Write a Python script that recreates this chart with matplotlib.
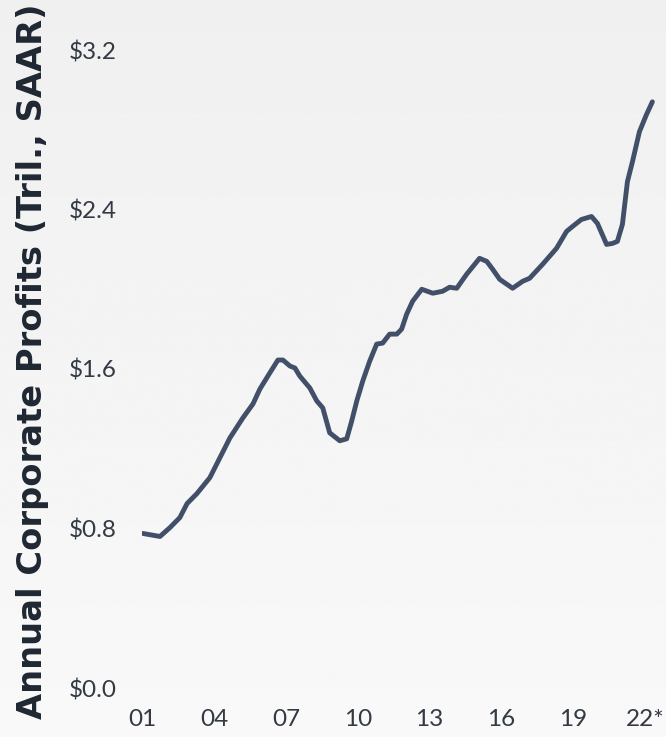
"""
Annual corporate profits (Tril., SAAR), 2001 - 2022
"""

import numpy as np
import matplotlib.pyplot as plt


# values (decimal year, $ trillions)
years = [2001.04, 2001.75, 2002.17, 2002.58, 2002.88, 2003.29, 2003.83,
         2004.25, 2004.67, 2005.21, 2005.63, 2005.92, 2006.33, 2006.67,
         2006.88, 2007.17, 2007.38, 2007.58, 2008.00, 2008.29, 2008.54,
         2008.83, 2009.25, 2009.54, 2009.75, 2009.96, 2010.21, 2010.50,
         2010.79, 2011.04, 2011.33, 2011.63, 2011.83, 2012.04, 2012.29,
         2012.67, 2013.13, 2013.54, 2013.83, 2014.13, 2014.54, 2015.08,
         2015.38, 2015.63, 2015.92, 2016.46, 2016.88, 2017.17, 2017.71,
         2018.29, 2018.71, 2018.96, 2019.33, 2019.75, 2020.00, 2020.38,
         2020.63, 2020.83, 2021.04, 2021.25, 2021.46, 2021.75, 2022.04,
         2022.29]
profits = [0.775, 0.760, 0.805, 0.855, 0.925, 0.975, 1.055,
           1.155, 1.255, 1.355, 1.425, 1.500, 1.580, 1.645,
           1.645, 1.615, 1.605, 1.565, 1.505, 1.440, 1.405,
           1.280, 1.240, 1.250, 1.340, 1.440, 1.540, 1.640,
           1.725, 1.730, 1.775, 1.775, 1.800, 1.875, 1.940,
           2.000, 1.980, 1.990, 2.010, 2.005, 2.075, 2.155,
           2.140, 2.100, 2.050, 2.005, 2.040, 2.055, 2.125,
           2.205, 2.290, 2.315, 2.350, 2.365, 2.330, 2.225,
           2.230, 2.240, 2.325, 2.540, 2.640, 2.790, 2.875,
           2.940]

tick_years = [2001, 2004, 2007, 2010, 2013, 2016, 2019, 2022]
tick_labels = ['01', '04', '07', '10', '13', '16', '19', '22*']
y_ticks = [0.0, 0.8, 1.6, 2.4, 3.2]

W, H = 666, 737
fig = plt.figure(figsize=(W / 100, H / 100), dpi=100)

# soft grey gradient background
bg = fig.add_axes([0, 0, 1, 1], zorder=-1)
grad = np.linspace(0.94, 0.975, 256).reshape(-1, 1)
bg.imshow(grad, cmap='gray', vmin=0, vmax=1, aspect='auto',
          extent=[0, 1, 0, 1], origin='upper')
bg.axis('off')

ax = fig.add_axes([142 / W, 49 / H, 513 / W, 638 / H])
ax.patch.set_alpha(0)
ax.plot(years, profits, color='#415068', lw=3.5, solid_capstyle='round',
        solid_joinstyle='round')

ax.set_xlim(2001, 2022.4)
ax.set_ylim(0, 3.2)
ax.set_xticks(tick_years)
ax.set_xticklabels(tick_labels)
ax.set_yticks(y_ticks)
ax.set_yticklabels([f'${v:.1f}' for v in y_ticks])
ax.tick_params(length=0, labelsize=17.5, labelcolor='#333a44')
ax.tick_params(axis='x', pad=15)
ax.tick_params(axis='y', pad=18)
for s in ax.spines.values():
    s.set_visible(False)

for lbl in ax.get_xticklabels() + ax.get_yticklabels():
    lbl.set_fontfamily('Lato')

fig.text(33 / W, 376 / H, 'Annual Corporate Profits (Tril., SAAR)',
         rotation=90, ha='center', va='center', fontsize=24.3,
         fontweight='bold', color='#1f2733', family='DejaVu Sans')

plt.savefig('out.png', dpi=100)
